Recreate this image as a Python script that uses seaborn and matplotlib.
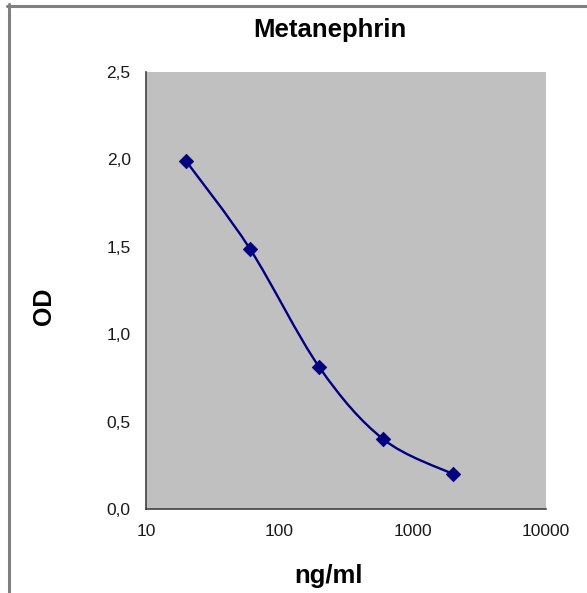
"""Metanephrin standard curve (OD vs concentration, log scale)."""

import matplotlib

matplotlib.use("Agg")

import matplotlib.pyplot as plt
import numpy as np
import seaborn as sns
from matplotlib.lines import Line2D
from matplotlib.patches import PathPatch
from matplotlib.path import Path
from matplotlib.ticker import NullLocator

# data
CONCENTRATION = [20, 60, 200, 600, 2000]  # ng/ml
OD_VALUES = [1.99, 1.49, 0.81, 0.40, 0.20]

X_TICKS = [10, 100, 1000, 10000]
X_TICK_LABELS = ["10", "100", "1000", "10000"]
Y_TICKS = [0.0, 0.5, 1.0, 1.5, 2.0, 2.5]
Y_TICK_LABELS = ["0,0", "0,5", "1,0", "1,5", "2,0", "2,5"]

TITLE = "Metanephrin"
X_LABEL = "ng/ml"
Y_LABEL = "OD"

NAVY = "#000080"
PLOT_BG = "#C0C0C0"
AXIS_COLOR = "#404040"
FRAME_COLOR = "#808080"

W, H = 587, 593
AX_BOX = (146, 72, 546, 509)  # left, top, right, bottom in pixels


def smooth_path(ax, xs, ys, ax_w, ax_h):
    """Excel-like smoothed line: Catmull-Rom Bezier in screen proportions."""
    xmin, xmax = ax.get_xlim()
    ymin, ymax = ax.get_ylim()
    u = (np.log10(xs) - np.log10(xmin)) / (np.log10(xmax) - np.log10(xmin)) * ax_w
    v = (np.asarray(ys) - ymin) / (ymax - ymin) * ax_h
    pts = np.column_stack([u, v])
    n = len(pts)

    verts = [pts[0]]
    codes = [Path.MOVETO]
    for i in range(n - 1):
        p_prev = pts[max(i - 1, 0)]
        p0, p1 = pts[i], pts[i + 1]
        p_next = pts[min(i + 2, n - 1)]
        c1 = p0 + (p1 - p_prev) / 6.0
        c2 = p1 - (p_next - p0) / 6.0
        verts += [c1, c2, p1]
        codes += [Path.CURVE4] * 3

    verts = np.array(verts) / np.array([ax_w, ax_h])
    return Path(verts, codes)


def main() -> None:
    sns.set_style("white")
    plt.rcParams["font.family"] = ["Liberation Sans", "DejaVu Sans"]
    plt.rcParams["text.color"] = "black"

    fig = plt.figure(figsize=(W / 100, H / 100), dpi=100)
    left, top, right, bottom = AX_BOX
    ax = fig.add_axes([left / W, 1 - bottom / H, (right - left) / W, (bottom - top) / H])
    ax.set_facecolor(PLOT_BG)

    ax.set_xscale("log")
    ax.set_xlim(10, 10000)
    ax.set_ylim(0, 2.5)

    path = smooth_path(ax, CONCENTRATION, OD_VALUES, right - left, bottom - top)
    ax.add_patch(
        PathPatch(path, transform=ax.transAxes, fill=False, edgecolor=NAVY, lw=1.7, zorder=2)
    )

    sns.scatterplot(
        x=CONCENTRATION,
        y=OD_VALUES,
        marker="D",
        s=55,
        color=NAVY,
        edgecolor=NAVY,
        linewidth=0.5,
        zorder=3,
        ax=ax,
    )

    ax.set_xticks(X_TICKS)
    ax.set_xticklabels(X_TICK_LABELS)
    ax.xaxis.set_minor_locator(NullLocator())
    ax.set_yticks(Y_TICKS)
    ax.set_yticklabels(Y_TICK_LABELS)

    for side in ["top", "right"]:
        ax.spines[side].set_visible(False)
    for side in ["left", "bottom"]:
        ax.spines[side].set_color(AXIS_COLOR)
        ax.spines[side].set_linewidth(1.2)

    ax.tick_params(
        axis="both",
        direction="out",
        length=5,
        width=1,
        color=AXIS_COLOR,
        labelsize=12.5,
        labelcolor="#1a1a1a",
        pad=6,
    )

    fig.text(330 / W, 1 - 36.5 / H, TITLE, ha="center", va="baseline",
             fontsize=18.5, fontweight="bold")
    fig.text(329 / W, 1 - 583 / H, X_LABEL, ha="center", va="baseline",
             fontsize=18.5, fontweight="bold")
    fig.text(44 / W, 1 - 306.5 / H, Y_LABEL, ha="center", va="center",
             rotation=90, fontsize=18, fontweight="bold")

    # outer frame (top and left edges only, as in the reference)
    fig.add_artist(Line2D([7 / W, 1], [1 - 5.5 / H, 1 - 5.5 / H],
                          transform=fig.transFigure, color=FRAME_COLOR, lw=2.2))
    fig.add_artist(Line2D([8.5 / W, 8.5 / W], [0, 1 - 4 / H],
                          transform=fig.transFigure, color=FRAME_COLOR, lw=2.2))

    fig.savefig("out.png", dpi=100)
    plt.close(fig)


if __name__ == "__main__":
    main()
